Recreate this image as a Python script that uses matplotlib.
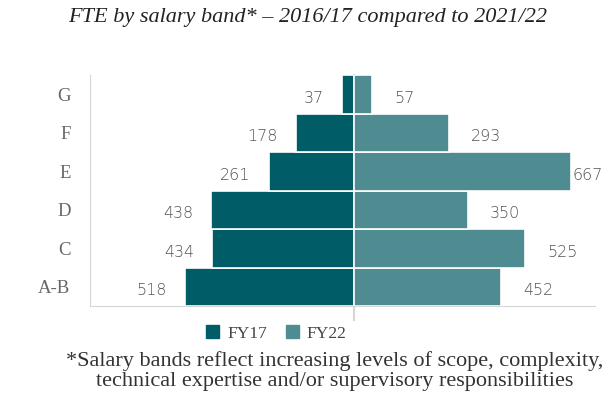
import matplotlib
matplotlib.use("Agg")
import matplotlib.pyplot as plt
from matplotlib.patches import Patch

DARK = "#005d67"
LIGHT = "#4f8c92"
GREY_TXT = "#555555"
RULE = "#d6d6d6"

bands = ["A-B", "C", "D", "E", "F", "G"]
fy17 = [518, 434, 438, 261, 178, 37]
fy22 = [452, 525, 350, 667, 293, 57]

fig = plt.figure(figsize=(6.10, 3.97), dpi=100)
ax = fig.add_axes([0.1475, 0.229, 0.8275, 0.582])

y = range(len(bands))
ax.barh(y, [-v for v in fy17], height=1.0, color=DARK, edgecolor="white", linewidth=1.2)
ax.barh(y, fy22, height=1.0, color=LIGHT, edgecolor="white", linewidth=1.2)

for i, v in enumerate(fy17):
    ax.annotate(f"{v}", xy=(-v, i), xytext=(-13, -3), textcoords="offset points",
                ha="right", va="center", fontsize=11.5, color=GREY_TXT,
                family="DejaVu Sans", fontweight="light")
widest = max(fy22)
for i, v in enumerate(fy22):
    pad = 1 if v == widest else 16
    ax.annotate(f"{v}", xy=(v, i), xytext=(pad, -3), textcoords="offset points",
                ha="left", va="center", fontsize=11.5, color=GREY_TXT,
                family="DejaVu Sans", fontweight="light")

ax.axvline(0, color=RULE, lw=1.5, ymin=-0.06, ymax=1, clip_on=False, zorder=0)
ax.set_xlim(-810, 740)
ax.set_ylim(-0.5, 5.5)
ax.set_yticks(list(y))
ax.set_yticklabels(bands, family="Liberation Serif", fontsize=13.5, color="#666666")
ax.tick_params(axis="y", length=0, pad=14)
ax.set_xticks([])
for s in ("top", "right"):
    ax.spines[s].set_visible(False)
ax.spines["left"].set_color(RULE)
ax.spines["bottom"].set_color(RULE)

fig.text(0.505, 0.955, "FTE by salary band* \u2013 2016/17 compared to 2021/22",
         ha="center", va="center", family="Liberation Serif", style="italic",
         fontsize=16, color="#222222")

handles = [Patch(color=DARK), Patch(color=LIGHT)]
fig.legend(handles, ["FY17", "FY22"], loc="center", bbox_to_anchor=(0.453, 0.16),
           ncol=2, frameon=False, handlelength=0.75, handleheight=0.75,
           handletextpad=0.45, columnspacing=1.1,
           prop={"family": "Liberation Serif", "size": 12.5}, labelcolor="#444444")

fig.text(0.549, 0.065, "*Salary bands reflect increasing levels of scope, complexity,\n"
         "technical expertise and/or supervisory responsibilities",
         ha="center", va="center", family="Liberation Serif", fontsize=16,
         color="#333333", linespacing=1.1)

fig.savefig("out.png", dpi=100)
